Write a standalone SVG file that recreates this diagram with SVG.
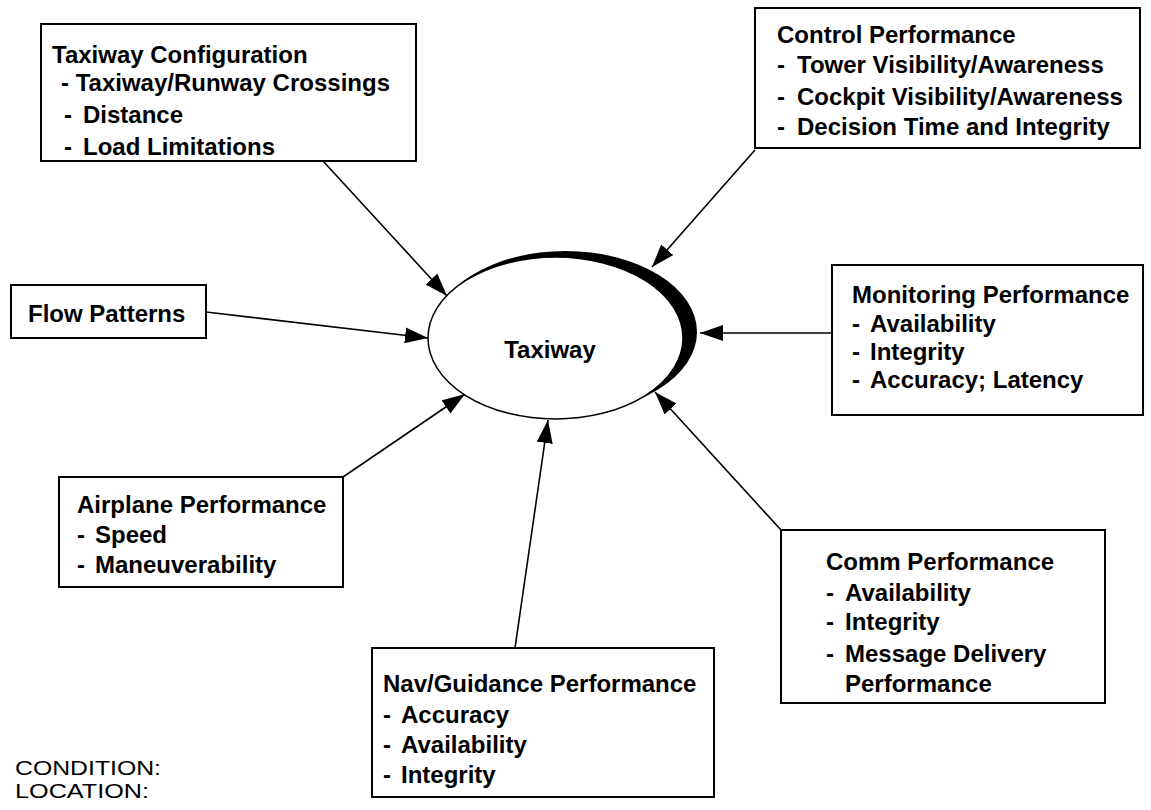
<svg xmlns="http://www.w3.org/2000/svg" width="1151" height="810" viewBox="0 0 1151 810">
<style>
.box{fill:#fff;stroke:#000;stroke-width:2}
.t{font-family:"Liberation Sans",Arial,sans-serif;font-weight:bold;font-size:24px;fill:#000}
.r{font-family:"Liberation Sans",Arial,sans-serif;font-size:21px;fill:#000}
.c{stroke:#000;stroke-width:1.6;fill:none;marker-end:url(#ah)}
</style>
<defs>
<marker id="ah" markerUnits="userSpaceOnUse" markerWidth="24" markerHeight="16" refX="23" refY="8" orient="auto">
<path d="M0,0 L23,8 L0,16 z" fill="#000"/>
</marker>
</defs>
<rect width="1151" height="810" fill="#fff"/>
<g id="connectors">
<line class="c" x1="323" y1="161" x2="447" y2="296"/>
<line class="c" x1="755" y1="150" x2="652" y2="267"/>
<line class="c" x1="206" y1="312" x2="428" y2="338"/>
<line class="c" x1="832" y1="333" x2="700" y2="333"/>
<line class="c" x1="343" y1="477" x2="465" y2="394"/>
<line class="c" x1="515" y1="648" x2="548" y2="420"/>
<line class="c" x1="781" y1="530" x2="655" y2="392"/>
</g>
<g id="taxiway">
<ellipse cx="565.5" cy="332" rx="131.5" ry="81" fill="#000"/>
<ellipse cx="555.5" cy="338" rx="127.5" ry="81" fill="#fff" stroke="#000" stroke-width="1.5"/>
<text class="t" x="550" y="358" text-anchor="middle">Taxiway</text>
</g>
<g id="taxiway-config">
<rect class="box" x="41" y="24" width="375" height="137"/>
<text class="t" x="52" y="63">Taxiway Configuration</text>
<text class="t" x="61" y="91">- Taxiway/Runway Crossings</text>
<text class="t"><tspan x="64" y="123">-</tspan><tspan x="83" y="123">Distance</tspan></text>
<text class="t"><tspan x="64" y="155">-</tspan><tspan x="83" y="155">Load Limitations</tspan></text>
</g>
<g id="control-performance">
<rect class="box" x="755" y="8" width="385" height="140"/>
<text class="t" x="777" y="43">Control Performance</text>
<text class="t"><tspan x="777" y="73">-</tspan><tspan x="797" y="73">Tower Visibility/Awareness</tspan></text>
<text class="t"><tspan x="777" y="105">-</tspan><tspan x="797" y="105">Cockpit Visibility/Awareness</tspan></text>
<text class="t"><tspan x="777" y="135">-</tspan><tspan x="797" y="135">Decision Time and Integrity</tspan></text>
</g>
<g id="flow-patterns">
<rect class="box" x="11" y="285" width="195" height="53"/>
<text class="t" x="28" y="322">Flow Patterns</text>
</g>
<g id="monitoring-performance">
<rect class="box" x="832" y="265" width="311" height="150"/>
<text class="t" x="852" y="303">Monitoring Performance</text>
<text class="t"><tspan x="852" y="332">-</tspan><tspan x="870" y="332">Availability</tspan></text>
<text class="t"><tspan x="852" y="360">-</tspan><tspan x="870" y="360">Integrity</tspan></text>
<text class="t"><tspan x="852" y="388">-</tspan><tspan x="870" y="388">Accuracy; Latency</tspan></text>
</g>
<g id="airplane-performance">
<rect class="box" x="59" y="477" width="284" height="110"/>
<text class="t" x="77" y="513">Airplane Performance</text>
<text class="t"><tspan x="77" y="543">-</tspan><tspan x="95" y="543">Speed</tspan></text>
<text class="t"><tspan x="77" y="573">-</tspan><tspan x="95" y="573">Maneuverability</tspan></text>
</g>
<g id="nav-guidance-performance">
<rect class="box" x="372" y="648" width="342" height="149"/>
<text class="t" x="383" y="692">Nav/Guidance Performance</text>
<text class="t"><tspan x="383" y="723">-</tspan><tspan x="401" y="723">Accuracy</tspan></text>
<text class="t"><tspan x="383" y="753">-</tspan><tspan x="401" y="753">Availability</tspan></text>
<text class="t"><tspan x="383" y="783">-</tspan><tspan x="401" y="783">Integrity</tspan></text>
</g>
<g id="comm-performance">
<rect class="box" x="781" y="530" width="324" height="173"/>
<text class="t" x="826" y="570">Comm Performance</text>
<text class="t"><tspan x="826" y="601">-</tspan><tspan x="845" y="601">Availability</tspan></text>
<text class="t"><tspan x="826" y="630">-</tspan><tspan x="845" y="630">Integrity</tspan></text>
<text class="t"><tspan x="826" y="662">-</tspan><tspan x="845" y="662">Message Delivery</tspan></text>
<text class="t" x="845" y="692">Performance</text>
</g>
<g id="labels">
<text class="r" x="15" y="775" textLength="146" lengthAdjust="spacingAndGlyphs">CONDITION:</text>
<text class="r" x="15" y="798" textLength="134" lengthAdjust="spacingAndGlyphs">LOCATION:</text>
</g>
</svg>
